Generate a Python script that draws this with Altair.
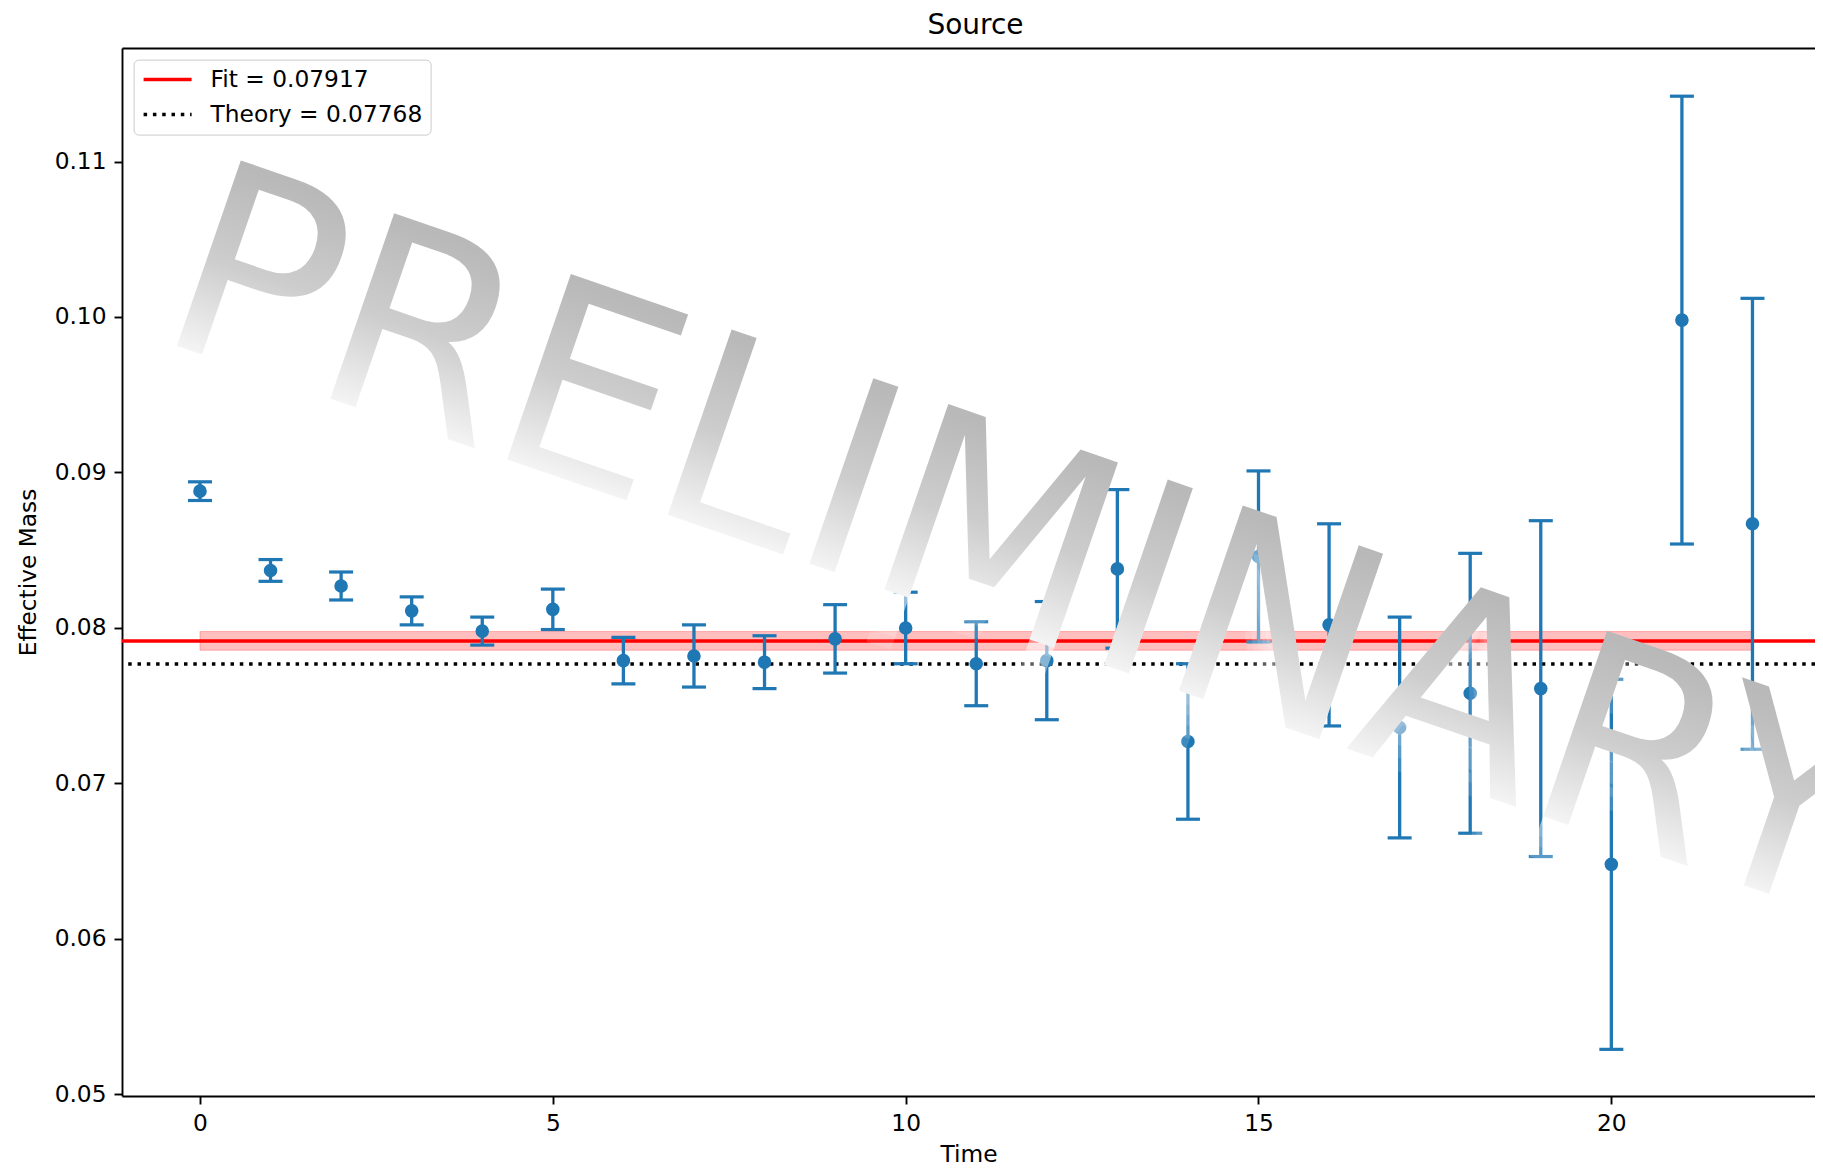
import altair as alt
import pandas as pd

# ---------------- data ----------------
time = list(range(23))
mass = [0.0888, 0.0837, 0.0827, 0.0811, 0.0798, 0.0812, 0.0779, 0.0782, 0.0778,
        0.0793, 0.0800, 0.0777, 0.0779, 0.0838, 0.0727, 0.0846, 0.0802, 0.0736,
        0.0758, 0.0761, 0.0648, 0.0998, 0.0867]
mass_err = [0.0006, 0.0007, 0.0009, 0.0009, 0.0009, 0.0013, 0.0015, 0.0020, 0.0017,
            0.0022, 0.0023, 0.0027, 0.0038, 0.0051, 0.0050, 0.0055, 0.0065, 0.0071,
            0.0090, 0.0108, 0.0119, 0.0144, 0.0145]
fit_value = 0.07917
fit_sigma = 0.0006
theory_value = 0.07768
band_time = [0, 22]
line_labels = ["Fit = 0.07917", "Theory = 0.07768"]
x_ticks = [0, 5, 10, 15, 20]
y_ticks = [0.05, 0.06, 0.07, 0.08, 0.09, 0.10, 0.11]
x_domain = [-1.105, 22.886]
y_domain = [0.0499, 0.1173]
watermark_text = ["PRELIMINARY"]
watermark_time = [-0.68]
watermark_mass = [0.0987]

BLUE = "#1f77b4"
FONT = "DejaVu Sans"
FS = 23.3

pts = pd.DataFrame({"t": time, "m": mass, "err": mass_err})
pts["lo"] = pts["m"] - pts["err"]
pts["hi"] = pts["m"] + pts["err"]

band_df = pd.DataFrame({"t": band_time,
                        "lo": [fit_value - fit_sigma] * len(band_time),
                        "hi": [fit_value + fit_sigma] * len(band_time)})
lines_df = pd.DataFrame({"label": line_labels, "value": [fit_value, theory_value]})
wm_df = pd.DataFrame({"label": watermark_text, "t": watermark_time, "m": watermark_mass})

xs = alt.Scale(domain=x_domain, nice=False, zero=False)
ys = alt.Scale(domain=y_domain, nice=False, zero=False)

bottom_axis = alt.Axis(orient="bottom", values=x_ticks, format="d", grid=False,
                       domainColor="black", domainWidth=1.9, tickColor="black",
                       tickWidth=1.9, tickSize=8, labelFont=FONT, labelFontSize=FS,
                       labelColor="black", labelPadding=8, labelFlush=False,
                       labelOverlap=False, title="Time", titleFont=FONT,
                       titleFontSize=FS, titleFontWeight="normal", titleColor="black",
                       titleY=58, titleBaseline="middle")
top_axis = alt.Axis(orient="top", labels=False, ticks=False, grid=False, domain=True,
                    domainColor="black", domainWidth=1.9, title=None)
y_axis = alt.Axis(orient="left", values=y_ticks, format=".2f", grid=False,
                  domainColor="black", domainWidth=1.9, tickColor="black",
                  tickWidth=1.9, tickSize=8, labelFont=FONT, labelFontSize=FS,
                  labelColor="black", labelPadding=8, labelFlush=False,
                  labelOverlap=False, title="Effective Mass", titleFont=FONT,
                  titleFontSize=FS, titleFontWeight="normal", titleColor="black",
                  titleX=-94, titleY=524, titleAngle=270, titleAlign="center",
                  titleBaseline="middle")

leg = alt.Legend(title=None, orient="none", legendX=11.6, legendY=11.6,
                 symbolType="M-1,0H3.8", symbolSize=400, symbolStrokeWidth=3.5,
                 labelFont=FONT, labelFontSize=FS, labelColor="black", labelLimit=600,
                 labelOffset=45, rowPadding=11, padding=8,
                 fillColor="rgba(255,255,255,0.8)", strokeColor="#cccccc",
                 cornerRadius=5)

band = alt.Chart(band_df).mark_area(color="red", fillOpacity=0.25, stroke="red",
                                    strokeOpacity=0.25, strokeWidth=1).encode(
    x=alt.X("t:Q", scale=xs, axis=top_axis),
    y=alt.Y("lo:Q", scale=ys, axis=None),
    y2="hi:Q",
)

lines = alt.Chart(lines_df).mark_rule(strokeWidth=3.5).encode(
    y=alt.Y("value:Q", scale=ys, axis=None),
    color=alt.Color("label:N", scale=alt.Scale(domain=line_labels,
                                               range=["#ff0000", "#000000"]),
                    legend=leg),
    strokeDash=alt.StrokeDash("label:N", scale=alt.Scale(domain=line_labels,
                                                         range=[[1, 0], [3.5, 5.8]]),
                              legend=leg),
)

errs = alt.Chart(pts).mark_rule(color=BLUE, strokeWidth=3.3).encode(
    x=alt.X("t:Q", scale=xs, axis=None),
    y=alt.Y("lo:Q", scale=ys, axis=None),
    y2="hi:Q",
)
cap_lo = alt.Chart(pts).mark_tick(color=BLUE, orient="horizontal", size=24,
                                  thickness=3.2, opacity=1).encode(
    x=alt.X("t:Q", scale=xs, axis=None),
    y=alt.Y("lo:Q", scale=ys, axis=None),
)
cap_hi = alt.Chart(pts).mark_tick(color=BLUE, orient="horizontal", size=24,
                                  thickness=3.2, opacity=1).encode(
    x=alt.X("t:Q", scale=xs, axis=None),
    y=alt.Y("hi:Q", scale=ys, axis=None),
)
points = alt.Chart(pts).mark_circle(color=BLUE, size=185, opacity=1).encode(
    x=alt.X("t:Q", scale=xs, axis=bottom_axis),
    y=alt.Y("m:Q", scale=ys, axis=y_axis),
)

# soft white haze under the watermark (shifted white copies, low opacity)
haze_layers = []
for off in [10, 20, 30, 42, 55]:
    haze_layers.append(
        alt.Chart(wm_df).mark_text(font=FONT, fontSize=269, angle=19, align="left",
                                   baseline="alphabetic", dy=off, fill="white",
                                   opacity=0.14).encode(
            x=alt.X("t:Q", scale=xs, axis=None),
            y=alt.Y("m:Q", scale=ys, axis=None),
            text="label:N",
        )
    )

wm_fill = {"gradient": "linear", "x1": 0, "y1": 0, "x2": 0, "y2": 1,
           "stops": [{"offset": 0.0, "color": "#b4b4b4"},
                     {"offset": 0.2, "color": "#b9b9b9"},
                     {"offset": 0.5, "color": "#cdcdcd"},
                     {"offset": 0.8, "color": "#f4f4f4"},
                     {"offset": 1.0, "color": "#ffffff"}]}
watermark = alt.Chart(wm_df).mark_text(font=FONT, fontSize=269, angle=19,
                                       align="left", baseline="alphabetic",
                                       fill=wm_fill).encode(
    x=alt.X("t:Q", scale=xs, axis=None),
    y=alt.Y("m:Q", scale=ys, axis=None),
    text="label:N",
)

chart = alt.layer(band, lines, errs, cap_lo, cap_hi, points, *haze_layers,
                  watermark).resolve_axis(
    x="independent", y="independent"
).properties(
    width=1693,
    height=1048,
    padding={"left": 114, "top": 40, "right": 0, "bottom": 68},
    autosize=alt.AutoSizeParams(type="none"),
    background="white",
    title=alt.TitleParams("Source", font=FONT, fontSize=28, fontWeight="normal",
                          color="black", anchor="middle", offset=8, dx=7),
).configure_view(stroke=None)

chart.save("out.html", embed_options={"renderer": "svg", "actions": False})
